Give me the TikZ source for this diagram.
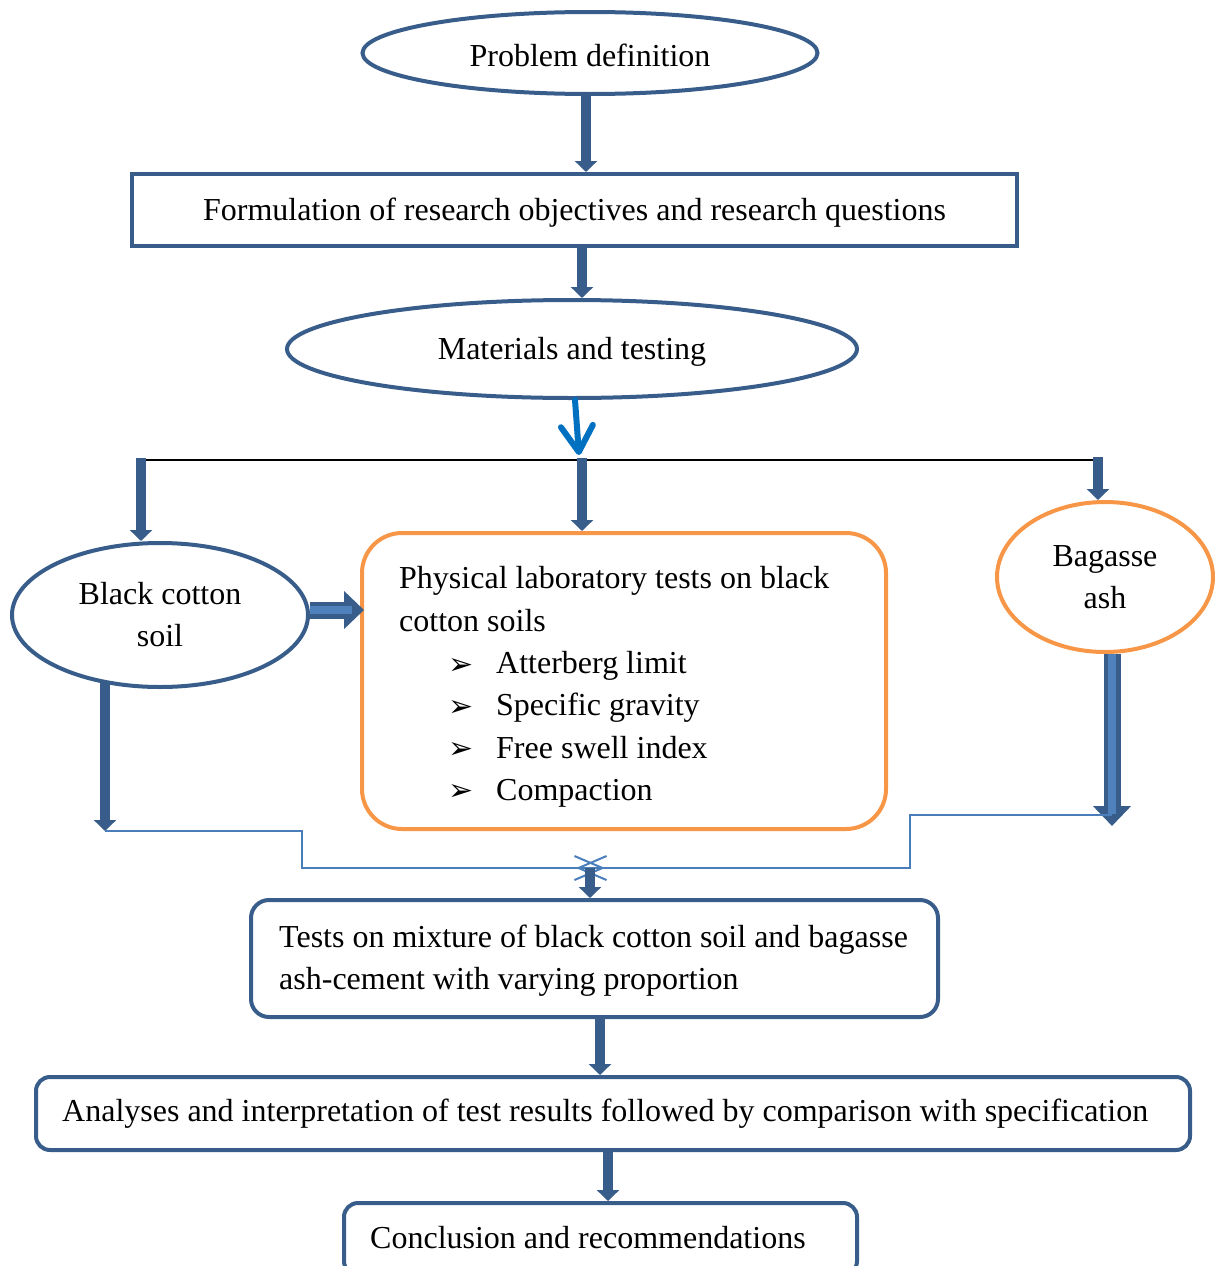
\documentclass[tikz,border=0pt]{standalone}
\usepackage{fontspec}
\setmainfont{Liberation Serif}
\newfontfamily\dejavu{DejaVu Sans}
\usetikzlibrary{arrows.meta,shapes.geometric,calc}
\definecolor{dkblue}{RGB}{56,93,138}
\definecolor{ltblue}{RGB}{79,129,189}
\definecolor{orng}{RGB}{247,150,70}
\definecolor{brblue}{RGB}{0,112,192}
\definecolor{lnblue}{RGB}{74,126,187}
\begin{document}
\begin{tikzpicture}[x=1pt,y=-1pt,font=\fontsize{32}{42}\selectfont,
  ell/.style={ellipse,draw=dkblue,line width=4pt,inner sep=0pt,align=center},
  oell/.style={ellipse,draw=orng,line width=4pt,inner sep=0pt,align=center},
  sbox/.style={rectangle,draw=dkblue,line width=4pt,inner sep=0pt},
  rbox/.style={rectangle,draw=dkblue,line width=4pt,rounded corners=18pt,inner sep=0pt},
  tarr/.style={draw=dkblue,line width=9.5pt,-{Triangle[width=22pt,length=11pt]}},
  barr/.style={draw=brblue,line width=6pt,line cap=round,-{Straight Barb[length=26pt,width=32pt,round]}},
  blk/.style={draw=dkblue,line width=17pt,-{Triangle[width=37pt,length=20pt]}},
  blkin/.style={draw=ltblue,line width=8pt},
  thinl/.style={draw=lnblue,line width=2pt,-{Straight Barb[length=28pt,width=24pt]}},
  ln/.style={anchor=west,inner sep=0pt,text height=22pt,text depth=7pt},
  bul/.style={anchor=west,inner sep=0pt,font=\dejavu\fontsize{30}{34}\selectfont}]
\useasboundingbox (0,0) rectangle (1215,1266);
\clip (0,0) rectangle (1215,1266);

% nodes
\node[ell,minimum width=455pt,minimum height=82pt] (pd) at (590,53) {\raisebox{-2.5pt}[\height][\depth]{Problem definition}};
\node[sbox,minimum width=885pt,minimum height=72pt] (form) at (574.5,210) {\raisebox{-2.5pt}[\height][\depth]{Formulation of research objectives and research questions}};
\node[ell,minimum width=570pt,minimum height=98pt] (mat) at (572,349) {\raisebox{-2.5pt}[\height][\depth]{Materials and testing}};
\node[ell,minimum width=296pt,minimum height=144pt] (bcs) at (160,615) {Black cotton\\soil};
\node[draw=orng,line width=4pt,rounded corners=40pt,minimum width=524pt,minimum height=296pt] (phys) at (624,681) {};
\node[oell,minimum width=216pt,minimum height=150pt] (bag) at (1105,577) {Bagasse\\ash};
\node[rbox,minimum width=687pt,minimum height=117pt] (mix) at (594.5,958.5) {};
\node[rbox,rounded corners=14pt,minimum width=1154pt,minimum height=73pt] (ana) at (613,1113.5) {};
\node[rbox,rounded corners=14pt,minimum width=513pt,minimum height=72pt] (conc) at (600.5,1239) {};

% texts
\node[ln] (p1) at (399,581) {Physical laboratory tests on black};
\node[ln] (p2) at (399,624) {cotton soils};
\node[bul] (b1) at (448,666) {➢};
\node[bul] (b2) at (448,708) {➢};
\node[bul] (b3) at (448,750) {➢};
\node[bul] (b4) at (448,792) {➢};
\node[ln] (i1) at (496,666) {Atterberg limit};
\node[ln] (i2) at (496,708) {Specific gravity};
\node[ln] (i3) at (496,751) {Free swell index};
\node[ln] (i4) at (496,793) {Compaction};
\node[ln] (m1) at (279,940) {Tests on mixture of black cotton soil and bagasse};
\node[ln] (m2) at (279,982) {ash-cement with varying proportion};
\node[ln] (a1) at (62,1114) {Analyses and interpretation of test results followed by comparison with specification};
\node[ln] (c1) at (370,1241) {Conclusion and recommendations};

% coordinates
\coordinate (jL) at (141,460);
\coordinate (jM) at (579,460);
\coordinate (jR) at (1098,460);
\coordinate (ltip) at (105,831);
\coordinate (rtip) at (1112,826);
\coordinate (rjoin) at (1112,815);
\coordinate (lbend) at (302,868);
\coordinate (rbend) at (910,868);
\coordinate (mrg) at (590,868);

% connectors
\draw[tarr] ([xshift=-4pt]pd.south) -- ([xshift=-4pt]pd.south |- form.north);
\draw[tarr] ([xshift=7.5pt]form.south) -- ([xshift=7.5pt]form.south |- mat.north);
\draw[barr] ([xshift=3pt]mat.south) -- ([yshift=5pt]jM);
\draw[black,line width=2pt] ([xshift=-4pt]jL) -- ([xshift=4pt]jR);
\draw[tarr] ([yshift=2pt]jL) -- (jL |- bcs.north);
\draw[tarr] ([xshift=3pt,yshift=2pt]jM) -- ([xshift=3pt]jM |- phys.north);
\draw[tarr] ([yshift=3pt]jR) -- (jR |- bag.north);
\draw[blk] ([yshift=5pt]bcs.east) -- ([xshift=4pt,yshift=5pt]bcs.east -| phys.west);
\draw[blkin] ([yshift=5pt]bcs.east) -- ([xshift=-8pt,yshift=5pt]bcs.east -| phys.west);
\draw[tarr] (ltip |- bcs.230.6) -- (ltip);
\draw[blk] (rtip |- bag.south) -- (rtip);
\draw[blkin] (rtip |- bag.south) -- ([yshift=12pt]rtip);
\draw[thinl] (ltip) -| (lbend) -- ([xshift=15pt]mrg);
\draw[thinl] (rjoin) -| (rbend) -- ([xshift=-14pt]mrg);
\draw[tarr] (mrg) -- (mrg |- mix.north);
\draw[tarr] ([xshift=5.5pt]mix.south) -- ([xshift=5.5pt]mix.south |- ana.north);
\draw[tarr] ([xshift=-5pt]ana.south) -- ([xshift=-5pt]ana.south |- conc.north);
\end{tikzpicture}
\end{document}
